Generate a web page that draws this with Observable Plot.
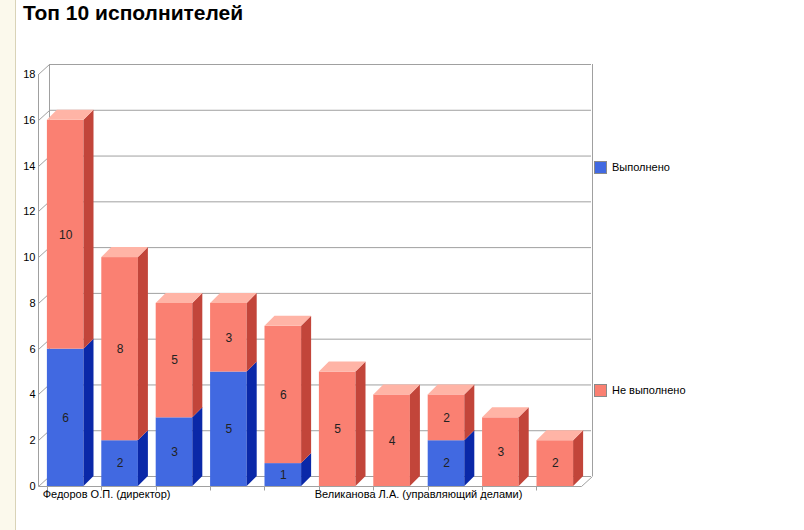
<!DOCTYPE html>
<html><head><meta charset="utf-8">
<script src="https://cdn.jsdelivr.net/npm/d3@7"></script>
<script src="https://cdn.jsdelivr.net/npm/@observablehq/plot@0.6"></script>
<style>
body{margin:0;background:#fff;font-family:"Liberation Sans",Arial,sans-serif;}
#wrap{position:relative;width:804px;height:530px;overflow:hidden;background:#fff;}
#strip{position:absolute;left:0;top:0;width:15px;height:530px;background:#fbf9ec;border-right:1px solid #d9d3b8;}
#title{position:absolute;left:23px;top:3px;font-weight:bold;font-size:21px;line-height:20px;color:#000;}
.leg{position:absolute;font-size:11px;height:13px;line-height:13px;display:flex;align-items:center;color:#000;}
.sw{width:11px;height:11px;border:1px solid #8a8a8a;margin-right:5px;}
#chart svg{position:absolute;left:0;top:0;}
</style></head>
<body>
<div id="wrap">
  <div id="strip"></div>
  <div id="chart"></div>
  <div id="title">Топ 10 исполнителей</div>
  <div class="leg" style="left:594px;top:161px"><div class="sw" style="background:#4169e1"></div>Выполнено</div>
  <div class="leg" style="left:594px;top:384px"><div class="sw" style="background:#fa8072"></div>Не выполнено</div>
</div>
<script>
// ---- data ----
const categories = ["1","2","3","4","5","6","7","8","9","10"];
const categoryLabels = ["Федоров О.П. (директор)", "", "", "", "", "Великанова Л.А. (управляющий делами)", "", "", "", ""];
const seriesNames = ["Выполнено", "Не выполнено"];
const done    = [6, 2, 3, 5, 1, 0, 0, 2, 0, 0];
const notDone = [10, 8, 5, 3, 6, 5, 4, 2, 3, 2];
const yTicks = [0, 2, 4, 6, 8, 10, 12, 14, 16, 18];

// colours
const frontColors = ["#4169e1", "#fa8072"];
const sideColors  = ["#0a28a8", "#c2453a"];
const topColor = "#ffb4a6";
const gridColor = "#a0a0a0";

// stacked rows
const rows = [];
categories.forEach((c, i) => {
  const vals = [done[i], notDone[i]];
  let base = 0;
  vals.forEach((v, s) => {
    rows.push({cat: c, series: seriesNames[s], s, value: v, y1: base, y2: base + v, top: s === 1});
    base += v;
  });
});
const labelRows = categories.map((c, i) => ({cat: c, label: categoryLabels[i]})).filter(d => d.label);

const DX = 10, DY = -10;   // bar depth
const WX = 11, WY = -10;   // wall depth

function svgEl(name, attrs) {
  const e = document.createElementNS("http://www.w3.org/2000/svg", name);
  for (const k in attrs) e.setAttribute(k, attrs[k]);
  return e;
}

// wall / axis decorations
function walls(index, scales) {
  const g = svgEl("g", {stroke: gridColor, "stroke-width": 1, fill: "none"});
  const [x0, x1] = scales.x.range ? scales.x.range() : [38, 582];
  const y0 = scales.y(0), yT = scales.y(yTicks[yTicks.length - 1]);
  const L = x0 + 0.5, R = x1 + WX - 0.5;
  g.appendChild(svgEl("line", {x1: L, x2: L, y1: y0, y2: yT}));
  g.appendChild(svgEl("line", {x1: L + WX, x2: L + WX, y1: y0 + WY, y2: yT + WY}));
  g.appendChild(svgEl("line", {x1: R, x2: R, y1: y0 + WY, y2: yT + WY}));
  for (const t of yTicks) {
    const y = Math.round(scales.y(t)) + 0.5;
    g.appendChild(svgEl("line", {x1: L, y1: y, x2: L + WX, y2: y + WY}));
  }
  const yf = Math.round(y0) + 0.5;
  g.appendChild(svgEl("line", {x1: L, x2: R - WX, y1: yf, y2: yf}));
  g.appendChild(svgEl("line", {x1: R - WX, y1: yf, x2: R, y2: yf + WY}));
  for (const c of categories) {
    const x = Math.round(scales.x(c)) + 0.5;
    g.appendChild(svgEl("line", {x1: x, x2: x, y1: yf, y2: yf + 4}));
  }
  return g;
}

// 3D faces of bars
function faces(index, scales) {
  const g = svgEl("g", {});
  const bw = scales.x.bandwidth ? scales.x.bandwidth() : 36.6;
  for (const d of rows) {
    if (d.value <= 0) continue;
    const xr = scales.x(d.cat) + bw;
    const yb = scales.y(d.y1), yt = scales.y(d.y2);
    g.appendChild(svgEl("path", {
      d: `M${xr},${yb}L${xr + DX},${yb + DY}L${xr + DX},${yt + DY}L${xr},${yt}Z`,
      fill: sideColors[d.s]
    }));
    if (d.top) {
      const xl = scales.x(d.cat);
      g.appendChild(svgEl("path", {
        d: `M${xl},${yt}L${xl + DX},${yt + DY}L${xr + DX},${yt + DY}L${xr},${yt}Z`,
        fill: topColor
      }));
    }
  }
  return g;
}

const chart = Plot.plot({
  width: 804,
  height: 530,
  marginLeft: 49,
  marginRight: 213,
  marginTop: 64,
  marginBottom: 54,
  style: {fontFamily: "'Liberation Sans', Arial, sans-serif", fontSize: "11px", color: "#000", background: "transparent"},
  x: {domain: categories, range: [38, 582], paddingInner: 0.327, paddingOuter: 0.1635, round: false, axis: null},
  y: {domain: [0, 18], range: [486, 74], ticks: yTicks, tickSize: 0, tickPadding: 14, label: null, tickFormat: d => String(d)},
  color: {domain: seriesNames, range: frontColors},
  marks: [
    Plot.ruleY(yTicks, {y: d => d, dy: -10, stroke: gridColor, strokeOpacity: 1}),
    walls,
    Plot.barY(rows.filter(d => d.value > 0), {x: "cat", y1: "y1", y2: "y2", fill: "series", inset: 0}),
    faces,
    Plot.text(rows.filter(d => d.value > 0), {x: "cat", y: d => (d.y1 + d.y2) / 2, text: d => String(d.value), fill: "#222", fontSize: 12}),
    Plot.text(labelRows, {x: "cat", y: () => 0, text: "label", textAnchor: "start", dx: -23, dy: 8, fill: "#000", fontSize: 11})
  ]
});
document.getElementById("chart").appendChild(chart);
</script>
</body></html>
